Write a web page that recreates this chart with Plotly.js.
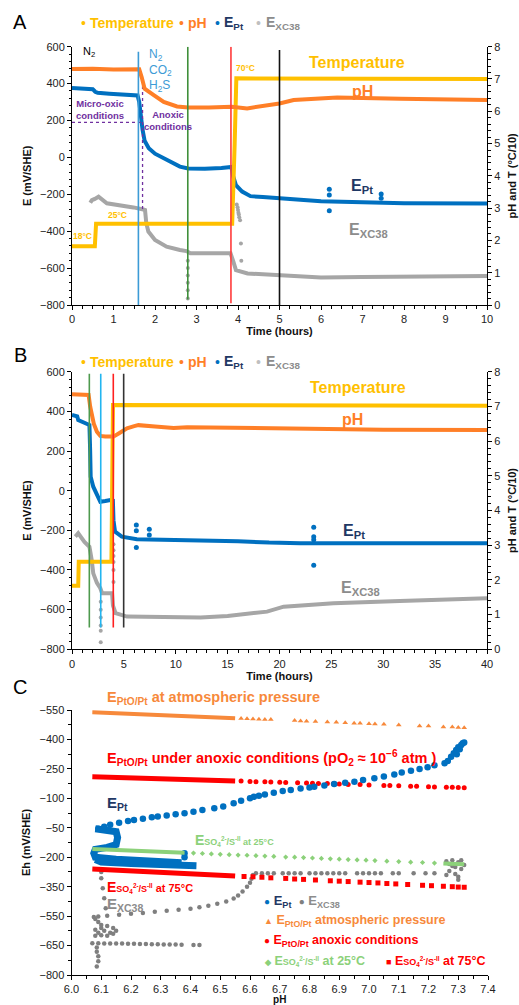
<!DOCTYPE html>
<html><head><meta charset="utf-8">
<script src="https://cdn.plot.ly/plotly-3.0.1.min.js"></script>
<style>html,body{margin:0;padding:0;background:#fff}#chart{width:519px;height:1005px}</style>
</head><body><div id="chart"></div>
<script>
// ---------------- Panel A data (0-10 h) ----------------
const tempA_t = [0, 0.55, 0.58, 3.86, 3.92, 3.96, 10];
const tempA_v = [1.82, 1.82, 2.52, 2.52, 5.0, 7.02, 7.0];
const pHA_t = [0, 0.5, 1.0, 1.4, 1.62, 1.68, 1.75, 1.97, 2.21, 2.53, 2.8, 3.3, 3.85, 4.22, 4.7, 5.0, 5.34, 5.9, 6.39, 7.91, 10];
const pHA_v = [7.31, 7.32, 7.29, 7.30, 7.30, 7.05, 6.7, 6.5, 6.29, 6.15, 6.12, 6.12, 6.14, 6.09, 6.17, 6.24, 6.35, 6.4, 6.43, 6.39, 6.35];
const EPtA_t = [0, 0.3, 0.5, 0.56, 0.62, 0.9, 1.2, 1.58, 1.62, 1.66, 1.7, 1.75, 1.85, 2.0, 2.2, 2.4, 2.6, 2.8, 3.2, 3.6, 3.84, 3.88, 3.95, 4.1, 4.3, 4.6, 5.0, 5.5, 6.0, 7.0, 8.0, 10];
const EPtA_v = [376, 372, 370, 356, 350, 345, 341, 336, 300, 220, 150, 90, 50, 20, -5, -30, -50, -60, -62, -57, -52, -100, -150, -185, -210, -215, -220, -230, -238, -245, -248, -250];
const EPtA_spike_t = [6.2, 6.2, 6.2, 7.45, 7.45];
const EPtA_spike_v = [-173, -204, -289, -198, -222];
const XA_t = [0.44, 0.48, 0.55, 0.64, 0.84, 1.16, 1.48, 1.72, 1.76, 1.79, 1.84, 2.0, 2.28, 2.6, 2.76, 2.85, 3.3, 3.82, 3.89, 3.95, 4.23, 4.6, 4.99, 5.37, 6.0, 7, 8, 9, 10];
const XA_v = [-246, -232, -225, -213, -249, -258, -271, -282, -285, -357, -402, -448, -484, -502, -508, -520, -522, -520, -566, -611, -629, -634, -638, -647, -651, -648, -645, -643, -643];
const XA_spike_t = [2.79, 2.79, 2.79, 2.79, 2.79, 2.79, 3.97, 3.99, 4.0, 4.01, 4.02, 4.03, 4.05, 4.07, 4.08];
const XA_spike_v = [-560, -600, -640, -680, -720, -765, -255, -270, -285, -300, -310, -325, -340, -466, -560];
const evA_t = [1.6, 2.79, 3.83, 5.0];
const evA_top = [573, 600, 600, 582];
const evA_bot = [-800, -770, -790, -800];
const evA_col = ['#3C9BD6', '#3F8F3A', '#FF3B3B', '#111111'];
const purpleH_t = [0, 1.7], purpleH_v = [190, 190];
const purpleV_t = [1.7, 1.7], purpleV_v = [420, -280];

// ---------------- Panel B data (0-40 h) ----------------
const tempB_t = [0, 0.6, 0.65, 3.8, 3.88, 3.95, 40];
const tempB_v = [1.83, 1.83, 2.52, 2.52, 5.0, 7.04, 7.02];
const pHB_t = [0, 1.6, 1.75, 1.9, 2.1, 2.4, 2.73, 3.2, 4.0, 4.5, 5.0, 5.3, 6.0, 6.4, 8, 9.8, 11.1, 15, 22, 30, 40];
const pHB_v = [7.35, 7.33, 7.0, 6.75, 6.5, 6.27, 6.15, 6.13, 6.13, 6.22, 6.3, 6.37, 6.43, 6.46, 6.42, 6.38, 6.40, 6.38, 6.35, 6.33, 6.32];
const EPtB_t = [0, 0.5, 0.6, 1.0, 1.68, 1.75, 1.8, 2.05, 2.4, 2.73, 3.2, 3.7, 3.94, 4.0, 4.15, 4.8, 6.25, 9.8, 12.4, 16, 19, 22, 30, 40];
const EPtB_v = [382, 375, 356, 345, 331, 200, 70, 20, -25, -56, -52, -47, -50, -150, -207, -232, -245, -249, -249, -255, -262, -265, -265, -265];
const EPtB_spike_t = [6.2, 6.2, 6.2, 7.45, 7.45, 23.3, 23.3, 23.3, 23.3];
const EPtB_spike_v = [-173, -202, -286, -195, -224, -185, -233, -247, -376];
const XB_t = [0.32, 0.6, 1.2, 1.68, 1.9, 2.05, 2.4, 2.73, 2.9, 3.86, 3.95, 4.2, 5.3, 9.8, 12.4, 15, 17, 18.8, 20.4, 25.2, 31.6, 40];
const XB_v = [-232, -215, -258, -283, -350, -417, -465, -492, -517, -517, -580, -618, -635, -640, -640, -632, -622, -610, -585, -568, -556, -543];
const XB_spike_t = [2.77, 2.77, 2.77, 2.77, 2.77, 2.77, 4.0, 4.0, 4.0, 4.0, 4.0, 4.0];
const XB_spike_v = [-560, -600, -640, -680, -706, -765, -270, -300, -330, -360, -400, -460];
const evB_t = [1.67, 2.77, 3.98, 4.98];
const evB_top = [590, 590, 590, 590];
const evB_bot = [-690, -690, -690, -690];
const evB_col = ['#4E9A4E', '#22B5F0', '#FF2020', '#333333'];

// ---------------- Panel C data (Eh vs pH) ----------------
const atmLine_pH = [6.07, 6.2, 6.35, 6.55];
const atmLine_Eh = [538, 530, 520, 508];
const atmPts_pH = [6.57, 6.59, 6.61, 6.63, 6.65, 6.67, 6.75, 6.77, 6.79, 6.82, 6.86, 6.89, 6.92, 6.95, 6.97, 7.0, 7.02, 7.05, 7.1, 7.17, 7.2, 7.25, 7.28, 7.3, 7.32];
const atmPts_Eh = [507, 506, 504, 503, 502, 501, 496, 494, 493, 491, 489, 487, 485, 483, 482, 480, 479, 477, 474, 469, 468, 464, 463, 461, 460];
const anoxLine_pH = [6.07, 6.3, 6.55];
const anoxLine_Eh = [210, 200, 188];
const anoxPts_pH = [6.57, 6.6, 6.62, 6.65, 6.67, 6.7, 6.72, 6.76, 6.79, 6.81, 6.83, 6.86, 6.88, 6.9, 6.93, 6.97, 7.0, 7.05, 7.07, 7.1, 7.14, 7.16, 7.2, 7.22, 7.26, 7.28, 7.3, 7.32];
const anoxPts_Eh = [188, 186, 185, 184, 183, 182, 181, 179, 178, 177, 176, 175, 174, 173, 171, 170, 168, 166, 165, 164, 162, 161, 159, 158, 157, 156, 155, 154];
const s25Line_pH = [6.07, 6.2, 6.38];
const s25Line_Eh = [-158, -166, -177];
const s25Pts_pH = [6.41, 6.44, 6.47, 6.5, 6.53, 6.56, 6.59, 6.62, 6.65, 6.68, 6.72, 6.75, 6.78, 6.81, 6.84, 6.87, 6.9, 6.93, 6.96, 6.99, 7.02, 7.06, 7.1, 7.14, 7.18, 7.22];
const s25Pts_Eh = [-179, -181, -183, -185, -187, -189, -190, -192, -194, -196, -199, -200, -202, -204, -206, -208, -210, -212, -214, -215, -217, -220, -222, -225, -227, -230];
const s25End_pH = [7.25, 7.32];
const s25End_Eh = [-232, -236];
const s75Line_pH = [6.07, 6.3, 6.55];
const s75Line_Eh = [-260, -277, -296];
const s75Pts_pH = [6.58, 6.61, 6.64, 6.67, 6.72, 6.75, 6.78, 6.82, 6.87, 6.9, 6.93, 6.97, 7.0, 7.03, 7.06, 7.09, 7.13, 7.18, 7.21, 7.25, 7.28, 7.3, 7.32];
const s75Pts_Eh = [-298, -300, -302, -305, -308, -311, -313, -316, -320, -322, -324, -327, -329, -331, -334, -336, -339, -343, -345, -348, -350, -352, -353];
const EPtC_a_pH = [6.08, 6.12, 6.15, 6.155, 6.15, 6.12, 6.08, 6.075, 6.08, 6.15, 6.25, 6.37];
const EPtC_a_Eh = [-55, -60, -70, -100, -135, -150, -160, -180, -200, -210, -218, -228];
const EPtC_b_pH = [6.08, 6.1, 6.2, 6.3, 6.37, 6.42];
const EPtC_b_Eh = [-212, -225, -232, -238, -245, -243];
const EPtC_pts_pH = [6.09, 6.11, 6.13, 6.16, 6.19, 6.21, 6.24, 6.27, 6.29, 6.32, 6.35, 6.38, 6.41, 6.44, 6.48, 6.51, 6.545, 6.57, 6.6, 6.613, 6.63, 6.65, 6.68, 6.71, 6.737, 6.77, 6.8, 6.816, 6.85, 6.883, 6.92, 6.951, 6.98, 7.018, 7.05, 7.085, 7.11, 7.141, 7.17, 7.197, 7.22, 7.254, 7.265, 7.276, 7.285, 7.293, 7.3, 7.31, 7.315, 7.32, 7.305, 7.295, 6.38, 6.38];
const EPtC_pts_Eh = [-55, -45, -35, -25, -15, -10, -4, 3, 7, 13, 19, 24, 32, 40, 49, 58, 75, 88, 100, 108, 113, 120, 129, 137, 142, 150, 155, 159, 166, 173, 179, 185, 193, 202, 211, 222, 232, 241, 250, 258, 268, 279, 290, 312, 330, 346, 360, 372, 380, 385, 350, 325, -180, -200];
const XC_pH = [7.26, 7.27, 7.28, 7.29, 7.3, 7.31, 7.27, 7.29, 7.3, 7.28, 7.32, 7.26, 7.31, 7.3,
  6.62, 6.64, 6.66, 6.68, 6.71, 6.73, 6.75, 6.77, 6.8, 6.82, 6.84, 6.86, 6.88, 6.9, 6.92, 6.96, 6.98, 7.0, 7.02, 7.04, 7.08, 7.1, 7.15, 7.19, 7.22,
  6.61, 6.605, 6.6, 6.59, 6.575, 6.56, 6.545, 6.52, 6.49, 6.46, 6.43, 6.40, 6.36, 6.32, 6.28, 6.24, 6.2, 6.16, 6.12, 6.09, 6.075,
  6.08, 6.09, 6.1, 6.12, 6.14, 6.15, 6.14, 6.12, 6.1, 6.09, 6.08, 6.1, 6.11, 6.13, 6.08,
  6.07, 6.09, 6.11, 6.13, 6.15, 6.17, 6.19, 6.21, 6.23, 6.25, 6.27, 6.29, 6.31, 6.33, 6.35, 6.37, 6.41, 6.43,
  6.085, 6.085, 6.09, 6.09, 6.085,
  6.1, 6.1, 6.105, 6.11, 6.115];
const XC_Eh = [-220, -235, -215, -250, -225, -260, -270, -285, -300, -245, -240, -290, -215, -315,
  -282, -282, -282, -282, -282, -282, -282, -282, -282, -282, -282, -282, -282, -282, -282, -282, -282, -282, -282, -282, -282, -282, -282, -282, -282,
  -290, -310, -330, -350, -375, -395, -410, -425, -437, -447, -455, -462, -468, -473, -478, -484, -488, -493, -498, -502, -505,
  -515, -530, -545, -550, -560, -575, -590, -600, -598, -585, -570, -560, -575, -585, -600,
  -638, -638, -639, -639, -640, -640, -641, -641, -642, -642, -643, -643, -644, -645, -645, -646, -647, -647,
  -660, -682, -705, -730, -757,
  -275, -307, -358, -409, -460];

// ---------------- styling helpers ----------------
const W = 519, H = 1005;
const FONT = 'Liberation Sans, Arial, sans-serif';
const C_TEMP = '#FFC000', C_PH = '#FF7F27', C_EPT = '#0070C0', C_XC = '#A6A6A6';
const C_NAVY = '#1F3864', C_GRAYTXT = '#8C8C8C', C_PURPLE = '#7030A0';

function ln(x, y, xa, ya, color, width, dash) {
  return {type: 'scatter', mode: 'lines', x: x, y: y, xaxis: xa, yaxis: ya,
    line: {color: color, width: width, dash: dash || 'solid'}, hoverinfo: 'skip', showlegend: false};
}
function mk(x, y, xa, ya, color, size, symbol) {
  return {type: 'scatter', mode: 'markers', x: x, y: y, xaxis: xa, yaxis: ya,
    marker: {color: color, size: size, symbol: symbol || 'circle', line: {width: 0}}, hoverinfo: 'skip', showlegend: false};
}

const traces = [
  // Panel A
  ln(XA_t, XA_v, 'x', 'y', C_XC, 4),
  mk(XA_spike_t, XA_spike_v, 'x', 'y', C_XC, 4),
  ln(EPtA_t, EPtA_v, 'x', 'y', C_EPT, 4),
  mk(EPtA_spike_t, EPtA_spike_v, 'x', 'y', C_EPT, 5),
  ln(purpleH_t, purpleH_v, 'x', 'y', C_PURPLE, 1.3, 'dot'),
  ln(purpleV_t, purpleV_v, 'x', 'y', C_PURPLE, 1.3, 'dot'),
  ln(tempA_t, tempA_v, 'x', 'y2', C_TEMP, 4),
  ln(pHA_t, pHA_v, 'x', 'y2', C_PH, 4),
  // Panel B
  ln(XB_t, XB_v, 'x2', 'y3', C_XC, 4),
  mk(XB_spike_t, XB_spike_v, 'x2', 'y3', C_XC, 4),
  ln(EPtB_t, EPtB_v, 'x2', 'y3', C_EPT, 4),
  mk(EPtB_spike_t, EPtB_spike_v, 'x2', 'y3', C_EPT, 5),
  ln(tempB_t, tempB_v, 'x2', 'y4', C_TEMP, 4),
  ln(pHB_t, pHB_v, 'x2', 'y4', C_PH, 4),
  // Panel C
  ln(atmLine_pH, atmLine_Eh, 'x3', 'y5', '#F7893B', 4),
  mk(atmPts_pH, atmPts_Eh, 'x3', 'y5', '#F7893B', 5, 'triangle-up'),
  ln(anoxLine_pH, anoxLine_Eh, 'x3', 'y5', '#FF0000', 5),
  mk(anoxPts_pH, anoxPts_Eh, 'x3', 'y5', '#FF0000', 5),
  mk(XC_pH, XC_Eh, 'x3', 'y5', '#7F7F7F', 4.5),
  ln(EPtC_a_pH, EPtC_a_Eh, 'x3', 'y5', C_EPT, 7),
  ln(EPtC_b_pH, EPtC_b_Eh, 'x3', 'y5', C_EPT, 7),
  mk(EPtC_pts_pH, EPtC_pts_Eh, 'x3', 'y5', C_EPT, 6.5),
  ln(s25Line_pH, s25Line_Eh, 'x3', 'y5', '#8CD17A', 4),
  mk(s25Pts_pH, s25Pts_Eh, 'x3', 'y5', '#8CD17A', 4, 'diamond'),
  ln(s25End_pH, s25End_Eh, 'x3', 'y5', '#8CD17A', 4),
  ln(s75Line_pH, s75Line_Eh, 'x3', 'y5', '#FF0000', 5),
  mk(s75Pts_pH, s75Pts_Eh, 'x3', 'y5', '#FF0000', 5, 'square')
];

function ax(extra) {
  return Object.assign({showline: true, linecolor: '#000', linewidth: 1, ticks: 'outside', ticklen: 4,
    tickwidth: 1, tickcolor: '#000', showgrid: false, zeroline: false, automargin: false, fixedrange: true,
    tickfont: {family: FONT, size: 11, color: '#222'}}, extra);
}
function ttl(text, standoff, size) {
  return {text: '<b>' + text + '</b>', font: {family: FONT, size: size || 11, color: '#111'}, standoff: standoff};
}
const minor = (d) => ({dtick: d, ticks: 'outside', ticklen: 2.5, tickcolor: '#000', tickwidth: 1});
const xdom = [72 / W, 487 / W];
const dom = (top, bot) => [1 - bot / H, 1 - top / H];

const shapes = [];
evA_t.forEach((t, i) => shapes.push({type: 'line', xref: 'x', yref: 'y', x0: t, x1: t, y0: evA_bot[i], y1: evA_top[i],
  line: {color: evA_col[i], width: 1.6}, layer: 'above'}));
evB_t.forEach((t, i) => shapes.push({type: 'line', xref: 'x2', yref: 'y3', x0: t, x1: t, y0: evB_bot[i], y1: evB_top[i],
  line: {color: evB_col[i], width: 1.6}, layer: 'above'}));

function A(text, px, py, opt) {
  opt = opt || {};
  return {text: text, xref: 'paper', yref: 'paper', x: px / W, y: 1 - py / H, showarrow: false,
    xanchor: opt.xa || 'left', yanchor: opt.ya || 'middle', align: opt.align || 'left',
    font: {family: FONT, size: opt.size || 12, color: opt.color || '#000'}};
}
function header(py) {
  return [
    A('•', 79, py, {color: C_TEMP, size: 14}),
    A('<b>Temperature</b>', 88, py, {color: C_TEMP, size: 14}),
    A('•', 177, py, {color: C_PH, size: 14}),
    A('<b>pH</b>', 186, py, {color: C_PH, size: 14}),
    A('•', 213, py, {color: C_EPT, size: 14}),
    A('<b>E<sub>Pt</sub></b>', 222, py, {color: C_NAVY, size: 14}),
    A('•', 254, py, {color: '#BFBFBF', size: 14}),
    A('<b>E<sub>XC38</sub></b>', 264, py, {color: C_GRAYTXT, size: 14})
  ];
}
const so = 'E<span style="font-size:9px">SO<sub>4</sub><sup>2-</sup>/S<sup>-II</sup></span>';

const annotations = [
  A('A', 20, 22, {xa: 'center', size: 20}),
  A('B', 20, 355, {xa: 'center', size: 20}),
  A('C', 20, 687, {xa: 'center', size: 20}),
  ...header(23), ...header(362),
  // Panel A labels
  A('N<sub>2</sub>', 81, 52, {size: 11}),
  A('N<sub>2</sub><br>CO<sub>2</sub><br>H<sub>2</sub>S', 147, 45, {ya: 'top', size: 12, color: '#3C9BD6'}),
  A('<b>Micro-oxic<br>conditions</b>', 100, 110, {xa: 'center', align: 'center', size: 9.5, color: C_PURPLE}),
  A('<b>Anoxic<br>conditions</b>', 168, 121, {xa: 'center', align: 'center', size: 9.5, color: C_PURPLE}),
  A('<b>70°C</b>', 245, 68, {xa: 'center', size: 8.5, color: C_TEMP}),
  A('<b>25°C</b>', 117, 215, {xa: 'center', size: 8.5, color: C_TEMP}),
  A('<b>18°C</b>', 82, 236, {xa: 'center', size: 8.5, color: C_TEMP}),
  A('<b>Temperature</b>', 357, 63, {xa: 'center', size: 16, color: C_TEMP}),
  A('<b>pH</b>', 362, 92, {xa: 'center', size: 16, color: C_PH}),
  A('<b>E<sub>Pt</sub></b>', 362, 186, {xa: 'center', size: 16, color: C_NAVY}),
  A('<b>E<sub>XC38</sub></b>', 368, 230, {xa: 'center', size: 16, color: C_GRAYTXT}),
  // Panel B labels
  A('<b>Temperature</b>', 358, 387, {xa: 'center', size: 16, color: C_TEMP}),
  A('<b>pH</b>', 352, 419, {xa: 'center', size: 16, color: C_PH}),
  A('<b>E<sub>Pt</sub></b>', 354, 531, {xa: 'center', size: 16, color: C_NAVY}),
  A('<b>E<sub>XC38</sub></b>', 360, 588, {xa: 'center', size: 16, color: C_GRAYTXT}),
  // Panel C labels
  A('<b>E<sub>PtO/Pt</sub> at atmospheric pressure</b>', 105, 698, {size: 14.5, color: '#F7893B'}),
  A('<b>E<sub>PtO/Pt</sub> under anoxic conditions (pO<sub>2</sub> ≈ 10<sup>−6</sup> atm )</b>', 105, 758, {size: 14.5, color: '#FF0000'}),
  A('<b>E<sub>Pt</sub></b>', 105, 803, {size: 15, color: C_NAVY}),
  A('<b>' + so + '<span style="font-size:9px"> at 25°C</span></b>', 193, 840, {size: 14, color: '#8CD17A'}),
  A('<b>' + so + '<span style="font-size:11px"> at 75°C</span></b>', 105, 887, {size: 14, color: '#FF0000'}),
  A('<b>E<sub>XC38</sub></b>', 105, 904, {size: 15, color: C_GRAYTXT}),
  // Panel C legend
  A('<b><span style="color:#0070C0;font-size:10px">●</span> <span style="color:#1F3864">E<sub>Pt</sub></span>  <span style="color:#7F7F7F;font-size:10px">●</span> <span style="color:#8C8C8C">E<sub>XC38</sub></span></b>', 262, 901, {size: 13}),
  A('<b><span style="font-size:9px">▲</span> E<sub>PtO/Pt</sub> atmospheric pressure</b>', 262, 921, {size: 12.5, color: '#F7893B'}),
  A('<b><span style="font-size:10px">●</span> E<sub>PtO/Pt</sub> anoxic conditions</b>', 262, 941, {size: 12.5, color: '#FF0000'}),
  A('<b><span style="font-size:8px">◆</span> ' + so + ' at 25°C</b>', 262, 961, {size: 12.5, color: '#8CD17A'}),
  A('<b><span style="font-size:9px">■</span> ' + so + ' at 75°C</b>', 384, 961, {size: 12.5, color: '#FF0000'})
];

const layout = {
  width: W, height: H, margin: {l: 0, r: 0, t: 0, b: 0},
  paper_bgcolor: '#fff', plot_bgcolor: 'rgba(0,0,0,0)', showlegend: false,
  font: {family: FONT, size: 11, color: '#222'},
  xaxis: ax({domain: xdom, anchor: 'y', range: [0, 10], dtick: 1, minor: minor(0.25), title: ttl('Time (hours)', 3)}),
  yaxis: ax({domain: dom(46.7, 305), anchor: 'x', range: [-800, 600], dtick: 200, minor: minor(40), title: ttl('E (mV/SHE)', 6)}),
  yaxis2: ax({overlaying: 'y', anchor: 'x', side: 'right', range: [0, 8], dtick: 1, minor: minor(0.2), title: ttl('pH and T (°C/10)', 8)}),
  xaxis2: ax({domain: xdom, anchor: 'y3', range: [0, 40], dtick: 5, minor: minor(1), title: ttl('Time (hours)', 3)}),
  yaxis3: ax({domain: dom(371.7, 649.3), anchor: 'x2', range: [-800, 600], dtick: 200, minor: minor(40), title: ttl('E (mV/SHE)', 6)}),
  yaxis4: ax({overlaying: 'y3', anchor: 'x2', side: 'right', range: [0, 8], dtick: 1, minor: minor(0.2), title: ttl('pH and T (°C/10)', 8)}),
  xaxis3: ax({domain: [71.5 / W, 488 / W], anchor: 'y5', range: [6.0, 7.4], dtick: 0.1, tickformat: '.1f', minor: minor(0.05),
    ticklabelstandoff: 0, title: ttl('pH', 0, 10)}),
  yaxis5: ax({domain: dom(710, 975), anchor: 'x3', range: [-800, 550],
    tickmode: 'array', tickvals: [550, 400, 250, 100, -50, -200, -350, -500, -650, -800],
    ticktext: ['−550', '−400', '−250', '−100', '−50', '−200', '−350', '−550', '−650', '−800'],
    minor: {tickmode: 'linear', tick0: -800, dtick: 75, ticks: 'outside', ticklen: 2.5, tickcolor: '#000'},
    title: ttl('Eh (mV/SHE)', 6)}),
  shapes: shapes,
  annotations: annotations
};

Plotly.newPlot('chart', traces, layout, {displayModeBar: false, staticPlot: true});
</script></body></html>
